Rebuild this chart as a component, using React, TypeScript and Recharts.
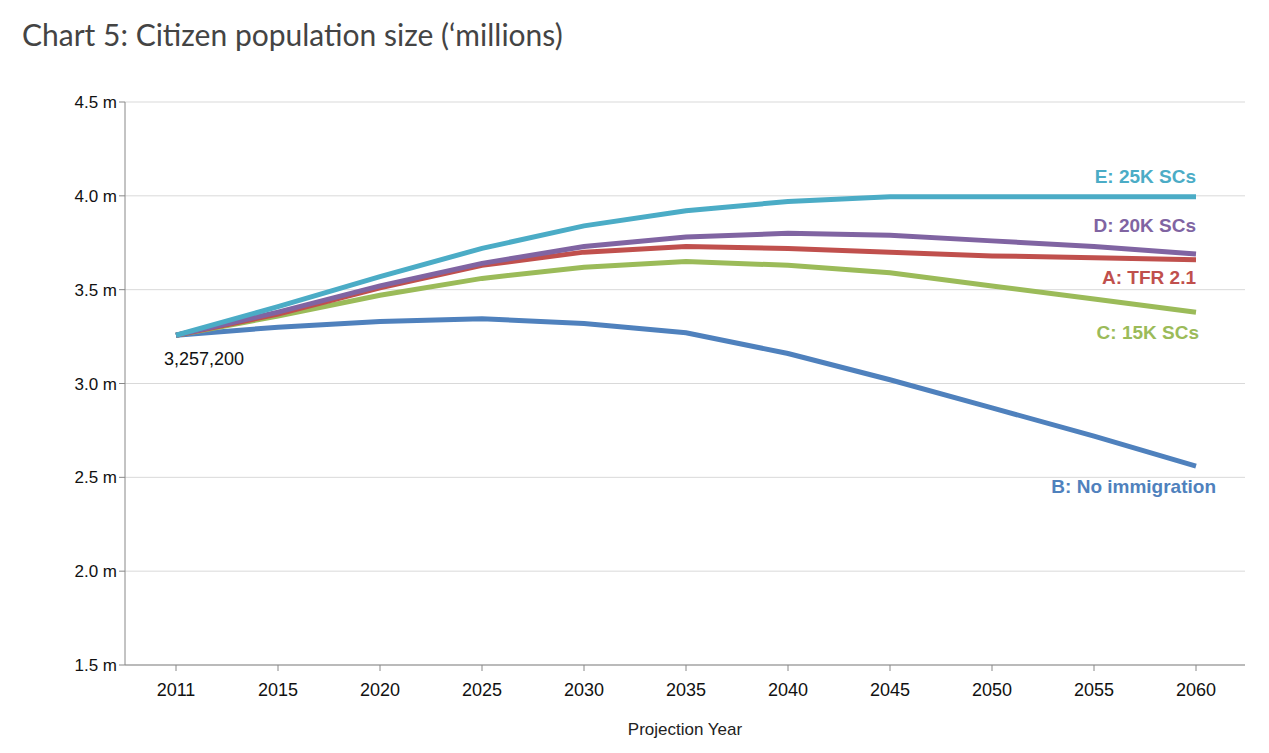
import React from "react";
import { LineChart, Line, XAxis, YAxis, CartesianGrid } from "recharts";

const years = ["2011","2015","2020","2025","2030","2035","2040","2045","2050","2055","2060"];
const seriesE = [3.257,3.41,3.57,3.72,3.84,3.92,3.97,3.995,3.995,3.995,3.995];
const seriesD = [3.257,3.38,3.52,3.64,3.73,3.78,3.80,3.79,3.76,3.73,3.69];
const seriesA = [3.257,3.37,3.51,3.63,3.70,3.73,3.72,3.70,3.68,3.67,3.66];
const seriesC = [3.257,3.36,3.47,3.56,3.62,3.65,3.63,3.59,3.52,3.45,3.38];
const seriesB = [3.257,3.30,3.33,3.345,3.32,3.27,3.16,3.02,2.87,2.72,2.56];
const yTicks = [1.5,2.0,2.5,3.0,3.5,4.0,4.5];

const data = years.map((y, i) => ({ year: y, E: seriesE[i], D: seriesD[i], A: seriesA[i], C: seriesC[i], B: seriesB[i] }));

const font = "'Liberation Sans', Arial, sans-serif";

const endLabel = (text: string, color: string, dy: number, dx = 0) => (props: any) => {
  if (props.index !== years.length - 1) return null;
  return (
    <text x={props.x + dx} y={props.y + dy} textAnchor="end" fill={color} fontFamily={font} fontSize={19} fontWeight="bold">
      {text}
    </text>
  );
};

const series = [
  { key: "B", color: "#4f81bd", label: "B: No immigration", dy: 27, dx: 20 },
  { key: "C", color: "#9bbb59", label: "C: 15K SCs", dy: 27, dx: 3 },
  { key: "A", color: "#c0504d", label: "A: TFR 2.1", dy: 24, dx: 0 },
  { key: "D", color: "#8064a2", label: "D: 20K SCs", dy: -22, dx: 0 },
  { key: "E", color: "#4bacc6", label: "E: 25K SCs", dy: -14, dx: 0 },
];

export default function App() {
  return (
    <div style={{ position: "relative", width: 1253, height: 740 }}>
      <div style={{ position: "absolute", left: 14, top: 8, fontFamily: "Lato, sans-serif", fontSize: 30, color: "#444" }}>
        Chart 5: Citizen population size (‘millions)
      </div>
      <LineChart width={1253} height={740} data={data} margin={{ top: 94, right: 16, bottom: 53, left: 0 }}>
        <CartesianGrid vertical={false} stroke="#d9d9d9" />
        <XAxis dataKey="year" stroke="#888" padding={{ left: 51, right: 49 }} tick={{ fill: "#111", fontFamily: font, fontSize: 18 }} tickMargin={12}
          height={30} label={{ value: "Projection Year", position: "insideBottom", offset: -40, fill: "#222", fontFamily: font, fontSize: 17 }} />
        <YAxis width={117} domain={[1.5, 4.5]} ticks={yTicks} stroke="#888" tickFormatter={(v: number) => v.toFixed(1) + " m"}
          tick={{ fill: "#111", fontFamily: font, fontSize: 17 }} />
        {series.map((s) => (
          <Line key={s.key} dataKey={s.key} stroke={s.color} strokeWidth={5} dot={false} isAnimationActive={false}
            label={endLabel(s.label, s.color, s.dy, s.dx)} />
        ))}
        <Line dataKey="E" stroke="none" dot={false} isAnimationActive={false} legendType="none"
          label={(p: any) => p.index === 0 ? (
            <text x={p.x - 12} y={p.y + 30} fill="#111" fontFamily={font} fontSize={18}>3,257,200</text>) : null} />
      </LineChart>
    </div>
  );
}
